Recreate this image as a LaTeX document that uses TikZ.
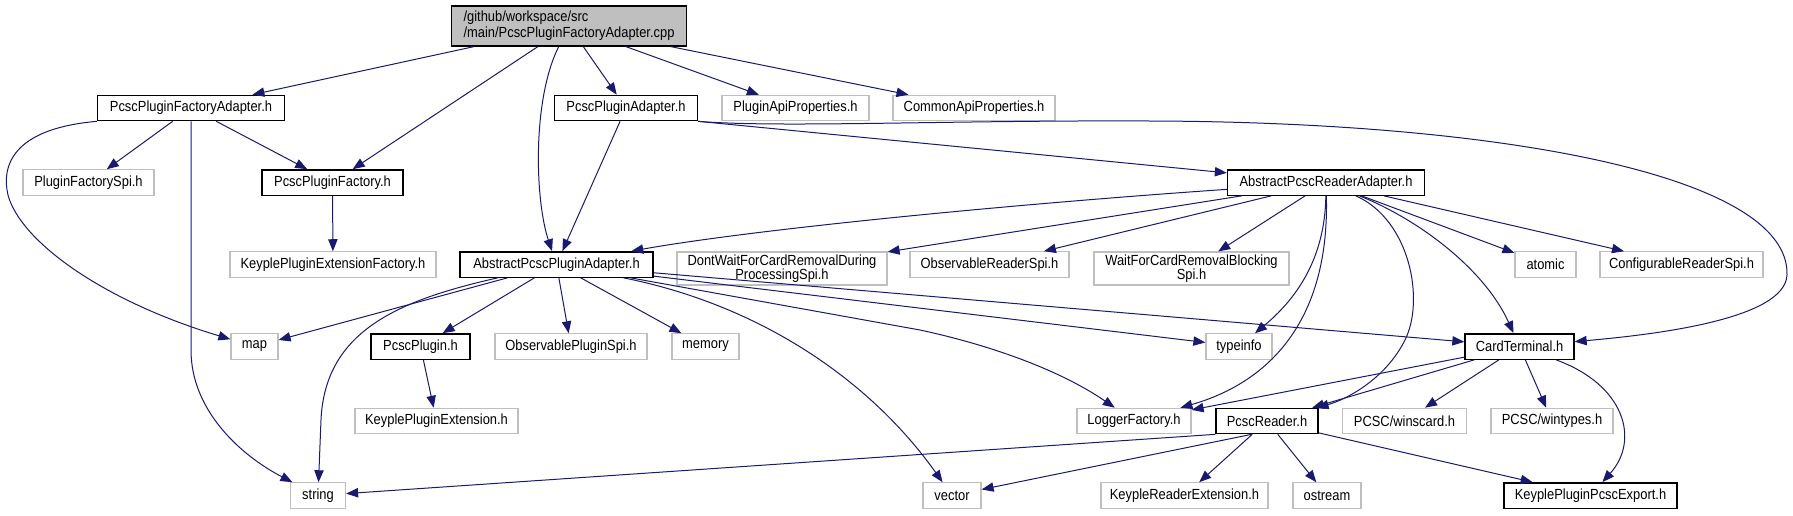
\documentclass[tikz,border=0pt]{standalone}
\usepackage{fontspec}
\usepackage{xcolor}
\usepackage{tikz}
\usetikzlibrary{arrows.meta}
\newfontfamily\dxfont{Liberation Sans}[FakeStretch=0.88]
\definecolor{depline}{RGB}{25,25,112}
\definecolor{hxline}{RGB}{191,191,191}
\definecolor{rootfill}{RGB}{191,191,191}
\tikzset{
  hbox/.style ={rectangle, fill=white, inner xsep=2pt, inner ysep=1pt, minimum height=19pt,
                font=\dxfont\fontsize{11}{10.5}\selectfont, align=center},
  hd/.style   ={hbox, draw=black, line width=1pt},
  hx/.style   ={hbox, draw=hxline, line width=0.9pt},
  bw/.style   ={minimum width=#1*0.75pt},
  dep/.style  ={draw=depline, line width=0.75pt, -{Triangle[length=9pt,width=7pt]}},
}

\begin{document}
\begin{tikzpicture}[x=0.75pt,y=-0.75pt]
  \useasboundingbox (0,0) rectangle (1793,515);
  \node[hd,bw=235,minimum height=30pt,fill=rootfill,align=left,font=\dxfont\fontsize{11}{12}\selectfont] (root) at (569,26) {/github/workspace/src\\/main/PcscPluginFactoryAdapter.cpp};
  \node[hd,bw=187] (pfa) at (191,108) {PcscPluginFactoryAdapter.h};
  \node[hd,bw=143] (pa) at (626,108) {PcscPluginAdapter.h};
  \node[hx,bw=147] (pap) at (795.5,108) {PluginApiProperties.h};
  \node[hx,bw=162] (cap) at (974,108) {CommonApiProperties.h};
  \node[hx,bw=131] (pfs) at (88.5,182.5) {PluginFactorySpi.h};
  \node[hd,bw=141] (pf) at (332.5,182.5) {PcscPluginFactory.h};
  \node[hd,bw=197] (ara) at (1326,182.5) {AbstractPcscReaderAdapter.h};
  \node[hx,bw=206] (kpef) at (333,264.5) {KeyplePluginExtensionFactory.h};
  \node[hd,bw=193] (apa) at (556.5,264.5) {AbstractPcscPluginAdapter.h};
  \node[hx,bw=210,minimum height=24.75pt] (dw) at (782,268.5) {DontWaitForCardRemovalDuring\\ProcessingSpi.h};
  \node[hx,bw=159] (ors) at (989.5,264.5) {ObservableReaderSpi.h};
  \node[hx,bw=195,minimum height=24.75pt] (wf) at (1191.5,268.5) {WaitForCardRemovalBlocking\\Spi.h};
  \node[hx,bw=61] (atm) at (1545.5,264.5) {atomic};
  \node[hx,bw=163] (crs) at (1681.5,264.5) {ConfigurableReaderSpi.h};
  \node[hx,bw=47] (map) at (254.5,346.5) {map};
  \node[hd,bw=99] (pp) at (420.5,346.5) {PcscPlugin.h};
  \node[hx,bw=152] (ops) at (571,346.5) {ObservablePluginSpi.h};
  \node[hx,bw=67] (mem) at (705.5,346.5) {memory};
  \node[hx,bw=66] (tinfo) at (1239,346.5) {typeinfo};
  \node[hd,bw=109] (ct) at (1519.5,346.5) {CardTerminal.h};
  \node[hx,bw=163] (kpe) at (436.5,421) {KeyplePluginExtension.h};
  \node[hx,bw=114] (lf) at (1134,421) {LoggerFactory.h};
  \node[hd,bw=102] (pr) at (1267,421) {PcscReader.h};
  \node[hx,bw=124] (win) at (1404.5,421) {PCSC/winscard.h};
  \node[hx,bw=122] (wt) at (1552,421) {PCSC/wintypes.h};
  \node[hx,bw=55] (str) at (318,495.5) {string};
  \node[hx,bw=58] (vec) at (952,495.5) {vector};
  \node[hx,bw=167] (kre) at (1184.5,495.5) {KeypleReaderExtension.h};
  \node[hx,bw=68] (ost) at (1327,495.5) {ostream};
  \node[hd,bw=173] (kpx) at (1590.5,495.5) {KeyplePluginPcscExport.h};

  \draw[dep] (root) -- (pfa);
  \draw[dep] (root) -- (pf);
  \draw[dep] (root) .. controls (532,100) and (535,200) .. (apa);
  \draw[dep] (root) -- (pa);
  \draw[dep] (root) -- (pap);
  \draw[dep] (root) -- (cap);
  \draw[dep] (pfa.south west) .. controls (20,128) and (0,160) .. (8,195) .. controls (20,240) and (100,300) .. (map);
  \draw[dep] (pfa) -- (pfs);
  \draw[dep] (pfa.south) -- (191,350) .. controls (191,410) and (240,455) .. (str);
  \draw[dep] (pfa) -- (pf);
  \draw[dep] (pf) -- (kpef);
  \draw[dep] (pa) -- (apa);
  \draw[dep] (pa.south east) -- (ara);
  \draw[dep] (pa.south east) .. controls (780,128) and (950,120) .. (1150,121) .. controls (1500,122) and (1790,175) .. (1787,275) .. controls (1785,320) and (1650,335) .. (ct);
  \draw[dep] (ara) .. controls (1000,205) and (750,230) .. (apa);
  \draw[dep] (ara) -- (dw);
  \draw[dep] (ara) -- (ors);
  \draw[dep] (ara) -- (wf);
  \draw[dep] (ara) .. controls (1325,260) and (1295,300) .. (tinfo);
  \draw[dep] (ara) .. controls (1330,330) and (1260,385) .. (lf);
  \draw[dep] (ara) .. controls (1410,220) and (1425,300) .. (1405,340) .. controls (1385,380) and (1345,400) .. (pr);
  \draw[dep] (ara) .. controls (1420,220) and (1485,270) .. (ct);
  \draw[dep] (ara) -- (atm);
  \draw[dep] (ara) -- (crs);
  \draw[dep] (apa) -- (map);
  \draw[dep] (apa) .. controls (400,300) and (325,330) .. (321,420) -- (str);
  \draw[dep] (apa) -- (pp);
  \draw[dep] (apa) -- (ops);
  \draw[dep] (apa) -- (mem);
  \draw[dep] (apa) .. controls (760,305) and (870,380) .. (vec);
  \draw[dep] (apa) -- (920,330) .. controls (990,345) and (1060,370) .. (lf);
  \draw[dep] (apa) -- (tinfo);
  \draw[dep] (apa) -- (ct);
  \draw[dep] (pp) -- (kpe);
  \draw[dep] (ct) -- (lf);
  \draw[dep] (ct) -- (pr);
  \draw[dep] (ct) -- (win);
  \draw[dep] (ct) -- (wt);
  \draw[dep] (ct) .. controls (1625,385) and (1640,440) .. (kpx);
  \draw[dep] (pr.south west) -- (str);
  \draw[dep] (pr.-139) -- (vec);
  \draw[dep] (pr) -- (kre);
  \draw[dep] (pr) -- (ost);
  \draw[dep] (pr) -- (kpx);
\end{tikzpicture}
\end{document}
